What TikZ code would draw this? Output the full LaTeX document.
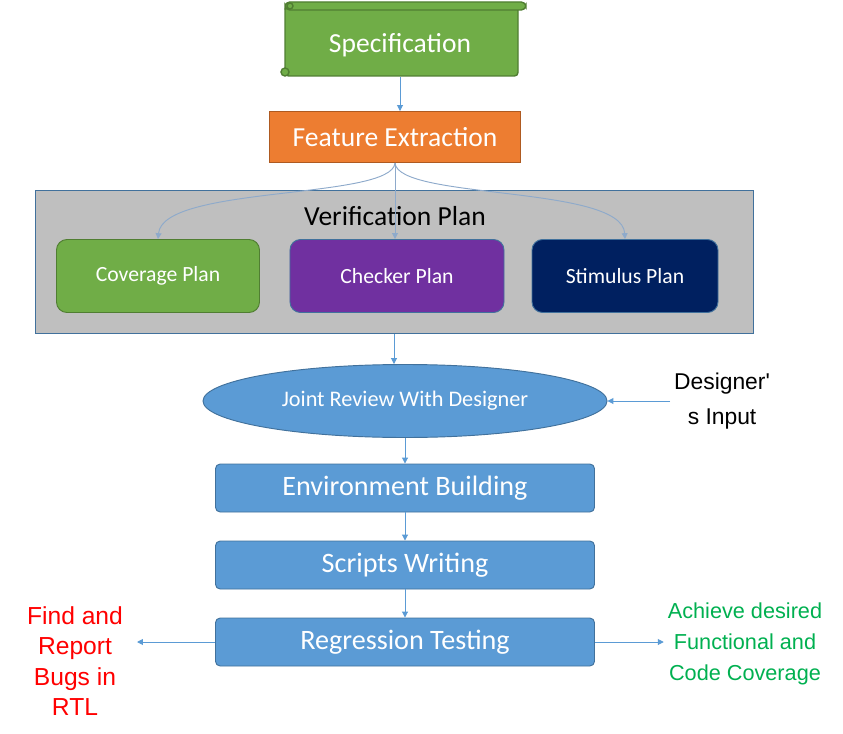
\documentclass[tikz,border=0pt]{standalone}
\usepackage{fontspec}
\setmainfont{Carlito}
\newfontfamily\arialfont{Liberation Sans}
\usetikzlibrary{arrows.meta,shapes.geometric}
\definecolor{specgreen}{HTML}{70AD47}
\definecolor{specedge}{HTML}{507E32}
\definecolor{featorange}{HTML}{ED7D31}
\definecolor{featedge}{HTML}{AE5A21}
\definecolor{planpurple}{HTML}{7030A0}
\definecolor{plannavy}{HTML}{002060}
\definecolor{flowblue}{HTML}{5B9BD5}
\definecolor{edgeblue}{HTML}{41719C}
\definecolor{curveblue}{HTML}{8EAACB}
\definecolor{vgray}{HTML}{BFBFBF}
\definecolor{goalgreen}{HTML}{00B050}
\tikzset{>={Triangle[length=5pt,width=5pt]}}
\tikzset{every node/.style={align=center}}
\tikzset{
  flowbox/.style={draw=edgeblue, fill=flowblue, thick, rounded corners=4pt, text=white,
    minimum width=11.37cm, minimum height=1.44cm, font=\fontsize{24}{28}\selectfont},
  planbox/.style={draw=edgeblue, thick, rounded corners=9pt, text=white,
    minimum height=2.19cm, font=\fontsize{18.5}{22}\selectfont},
  flowline/.style={->, draw=flowblue, thick},
  curveline/.style={->, draw=curveblue, thick}
}

\begin{document}
\begin{tikzpicture}[x=0.03cm, y=-0.03cm]
\useasboundingbox (0,0) rectangle (843,734);

% scroll
\fill[specgreen, draw=specedge, very thick, rounded corners=3pt] (285,6) rectangle (518,76);
\fill[specgreen, draw=specedge, very thick, rounded corners=4pt] (285,2) rectangle (526,10);
\fill[specgreen, draw=specedge, very thick] (285,72) circle (4);
\fill[specgreen, draw=specedge, very thick] (290,6) circle (3);
\node[text=white, font=\fontsize{23.5}{26}\selectfont] (spec) at (400,45) {Specification};
\coordinate (specbot) at (400,77);

\node[draw=featedge, fill=featorange, thick, text=white, minimum width=7.53cm, minimum height=1.53cm,
  font=\fontsize{23.5}{27}\selectfont] (feature) at (395,137) {Feature Extraction};

\node[draw=edgeblue, fill=vgray, thick, minimum width=21.54cm, minimum height=4.29cm] (vplan) at (394,262) {};
\node[font=\fontsize{23.5}{27}\selectfont] (vtitle) at (395,216) {Verification Plan};

\node[planbox, draw=specedge, fill=specgreen, minimum width=6.09cm] (coverage) at (158,276) {Coverage Plan};
\node[planbox, fill=planpurple, minimum width=6.42cm] (checker) at (397,276) {Checker Plan};
\node[planbox, fill=plannavy, minimum width=5.58cm] (stimulus) at (625,276) {Stimulus Plan};

\node[ellipse, draw=edgeblue, fill=flowblue, thick, text=white, minimum width=12.12cm, minimum height=2.19cm,
  inner sep=0pt, font=\fontsize{19}{22}\selectfont] (review) at (405,401) {Joint Review With Designer};
\node[font=\arialfont\fontsize{19.5}{30}\selectfont, anchor=west] (input) at (670,401) {Designer'\\s Input};

\node[flowbox] (env) at (405,488) {Environment Building};
\node[flowbox] (scripts) at (405,565) {Scripts Writing};
\node[flowbox] (regress) at (405,642) {Regression Testing};

\node[text=red, font=\arialfont\fontsize{21}{26}\selectfont] (bugs) at (75,661) {Find and\\Report\\Bugs in\\RTL};
\coordinate (bugsend) at (137,642);
\node[text=goalgreen, font=\arialfont\fontsize{18.5}{26.5}\selectfont] (goal) at (745,644) {Achieve desired\\Functional and\\Code Coverage};

\draw[flowline] (specbot) -- (specbot |- feature.north);
\draw[curveline] (feature.south) .. controls (392,200) and (163,185) .. (coverage.north);
\draw[curveline] (feature.south) -- (checker.north -| feature.south);
\draw[curveline] (feature.south) .. controls (398,200) and (622,185) .. (stimulus.north);
\draw[flowline] (vplan.south) -- (review.north -| vplan.south);
\draw[flowline] (input.west |- review.east) -- (review.east);
\draw[flowline] (review.south) -- (env);
\draw[flowline] (env) -- (scripts);
\draw[flowline] (scripts) -- (regress);
\draw[flowline] (regress.west) -- (bugsend |- regress.west);
\draw[flowline] (regress.east) -- (goal.west |- regress.east);
\end{tikzpicture}
\end{document}
